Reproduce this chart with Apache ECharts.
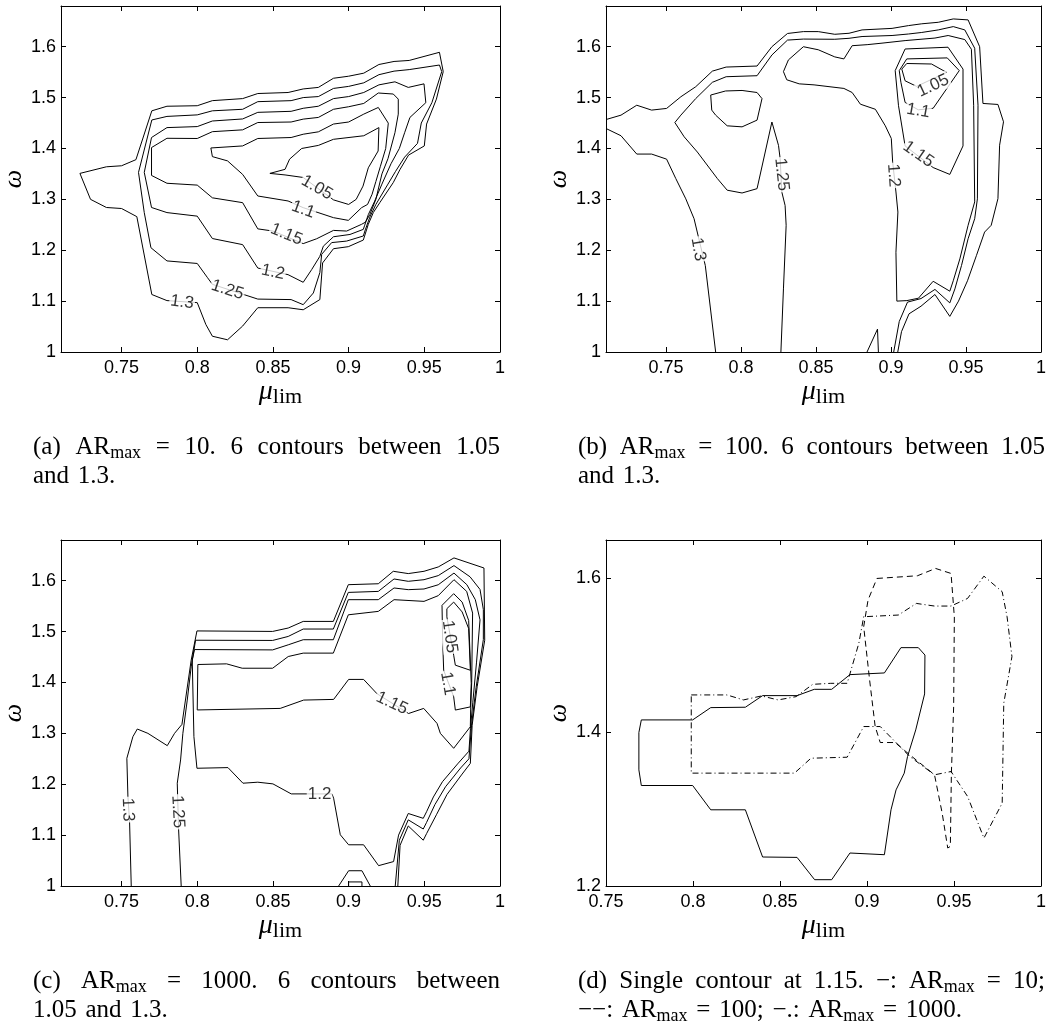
<!DOCTYPE html>
<html>
<head>
<meta charset="utf-8">
<script src="https://cdn.jsdelivr.net/npm/echarts@6/dist/echarts.min.js"></script>
<style>
  html, body { margin: 0; padding: 0; background: #fff; }
  #main { width: 1047px; height: 1021px; }
</style>
</head>
<body>
<div id="main"></div>
<script>
// tick values
var xTicks = [0.75, 0.8, 0.85, 0.9, 0.95, 1];
var yTicks = [1, 1.1, 1.2, 1.3, 1.4, 1.5, 1.6];
var yTicksD = [1.2, 1.4, 1.6];

// (a) AR_max = 10
var a130 = [[0.7225,1.351],[0.74,1.364],[0.75,1.366],[0.7595,1.378],[0.77,1.474],[0.78,1.483],[0.80,1.484],[0.81,1.494],[0.83,1.498],[0.84,1.508],[0.86,1.510],[0.87,1.517],[0.88,1.520],[0.89,1.538],[0.90,1.542],[0.91,1.548],[0.92,1.565],[0.93,1.571],[0.94,1.573],[0.96,1.589],[0.9625,1.551],[0.958,1.497],[0.9515,1.448],[0.95,1.405],[0.9396,1.387],[0.934,1.359],[0.9295,1.333],[0.9207,1.294],[0.9163,1.274],[0.913,1.251],[0.9097,1.220],[0.8998,1.207],[0.89,1.203],[0.8828,1.175],[0.881,1.103],[0.87,1.083],[0.86,1.087],[0.84,1.087],[0.83,1.051],[0.82,1.024],[0.81,1.031],[0.8057,1.054],[0.80,1.097],[0.78,1.101],[0.77,1.113],[0.7601,1.266],[0.75,1.282],[0.74,1.284],[0.7295,1.300],[0.7225,1.351]];
var a125 = [[0.77,1.456],[0.78,1.463],[0.80,1.466],[0.81,1.474],[0.83,1.477],[0.84,1.492],[0.862,1.494],[0.87,1.500],[0.88,1.502],[0.89,1.518],[0.90,1.522],[0.91,1.529],[0.92,1.545],[0.93,1.552],[0.94,1.555],[0.96,1.564],[0.9615,1.551],[0.955,1.49],[0.948,1.45],[0.9455,1.41],[0.937,1.383],[0.931,1.355],[0.926,1.33],[0.918,1.29],[0.914,1.265],[0.911,1.24],[0.9097,1.228],[0.8987,1.218],[0.8888,1.215],[0.8822,1.192],[0.881,1.156],[0.8767,1.116],[0.87,1.093],[0.862,1.103],[0.84,1.104],[0.81,1.133],[0.8068,1.146],[0.80,1.174],[0.78,1.179],[0.7694,1.205],[0.765,1.274],[0.7612,1.353],[0.77,1.456]];
var a120 = [[0.7698,1.4215],[0.78,1.441],[0.80,1.443],[0.81,1.454],[0.83,1.458],[0.84,1.471],[0.862,1.473],[0.87,1.479],[0.88,1.483],[0.89,1.498],[0.90,1.502],[0.91,1.510],[0.92,1.525],[0.9306,1.531],[0.9394,1.520],[0.9498,1.527],[0.951,1.490],[0.9405,1.461],[0.937,1.431],[0.9335,1.40],[0.928,1.37],[0.922,1.33],[0.917,1.295],[0.913,1.27],[0.9105,1.248],[0.9097,1.241],[0.9009,1.231],[0.89,1.2265],[0.8833,1.208],[0.881,1.188],[0.8756,1.162],[0.87,1.137],[0.86,1.152],[0.84,1.165],[0.83,1.211],[0.81,1.223],[0.80,1.267],[0.78,1.274],[0.7698,1.284],[0.765,1.353],[0.7698,1.4215]];
var a115 = [[0.7698,1.4018],[0.78,1.420],[0.80,1.4196],[0.81,1.433],[0.83,1.4366],[0.84,1.451],[0.862,1.452],[0.87,1.4577],[0.88,1.461],[0.89,1.477],[0.90,1.482],[0.91,1.4885],[0.9196,1.509],[0.9295,1.507],[0.9328,1.497],[0.9328,1.4675],[0.9306,1.431],[0.926,1.38],[0.922,1.35],[0.918,1.30],[0.914,1.27],[0.911,1.255],[0.9086,1.251],[0.8987,1.2377],[0.89,1.239],[0.8789,1.2226],[0.87,1.213],[0.85,1.2377],[0.84,1.242],[0.83,1.2935],[0.81,1.303],[0.80,1.328],[0.78,1.3316],[0.7698,1.347],[0.7698,1.4018]];
var a110 = [[0.809,1.401],[0.83,1.405],[0.84,1.4196],[0.862,1.4215],[0.87,1.428],[0.88,1.4327],[0.89,1.448],[0.90,1.452],[0.91,1.4675],[0.9196,1.4806],[0.9262,1.4498],[0.9245,1.40],[0.921,1.365],[0.918,1.335],[0.9155,1.31],[0.9125,1.29],[0.9086,1.2837],[0.8998,1.2587],[0.89,1.264],[0.87,1.2837],[0.86,1.2968],[0.84,1.3066],[0.83,1.349],[0.82,1.3756],[0.81,1.384],[0.809,1.401]];
var a105 = [[0.848,1.351],[0.858,1.359],[0.861,1.379],[0.869,1.400],[0.880,1.406],[0.890,1.418],[0.910,1.425],[0.92,1.441],[0.9195,1.395],[0.913,1.362],[0.9095,1.326],[0.905,1.300],[0.900,1.290],[0.890,1.299],[0.870,1.343],[0.858,1.348],[0.848,1.351]];
var aLabels = [['1.05',0.879,1.323],['1.1',0.870,1.280],['1.15',0.859,1.231],['1.2',0.850,1.157],['1.25',0.820,1.122],['1.3',0.790,1.098]];
var aAngles = [-30, -20, -22, -12, -18, -8];

// (b) AR_max = 100
var b130a = [[0.7102,1.439],[0.72,1.425],[0.7305,1.389],[0.7404,1.389],[0.7504,1.379],[0.7565,1.341],[0.7632,1.301],[0.7687,1.262],[0.7725,1.215],[0.7762,1.170],[0.7831,1.0]];
var b130b = [[0.7102,1.457],[0.72,1.4655],[0.7305,1.485],[0.7404,1.4754],[0.7504,1.4787],[0.7599,1.5016],[0.7698,1.5213],[0.7809,1.552],[0.7901,1.560],[0.8107,1.562],[0.8206,1.600],[0.831,1.626],[0.8416,1.6297],[0.8515,1.6297],[0.8625,1.6244],[0.872,1.6264],[0.8807,1.633],[0.9007,1.636],[0.9117,1.6415],[0.9205,1.645],[0.9315,1.648],[0.9415,1.6546],[0.9514,1.6527],[0.9591,1.600],[0.9613,1.4885],[0.9713,1.4865],[0.975,1.4524],[0.9724,1.4064],[0.9713,1.3014],[0.9668,1.249],[0.9624,1.2357],[0.957,1.19],[0.951,1.14],[0.945,1.10],[0.9392,1.070],[0.9293,1.113],[0.92,1.09],[0.912,1.075],[0.907,1.04],[0.9045,1.0]];
var b125 = [[0.8266,1.0],[0.8283,1.124],[0.8301,1.249],[0.8294,1.288],[0.8272,1.3145],[0.8261,1.380],[0.825,1.406],[0.8206,1.452],[0.8107,1.321],[0.8007,1.3125],[0.7908,1.318],[0.7842,1.341],[0.7709,1.393],[0.7621,1.423],[0.7559,1.451],[0.7599,1.4655],[0.7698,1.498],[0.7809,1.530],[0.7901,1.541],[0.8107,1.543],[0.8206,1.5837],[0.831,1.613],[0.8416,1.615],[0.8625,1.6146],[0.872,1.6165],[0.8807,1.620],[0.9007,1.622],[0.9117,1.625],[0.9205,1.628],[0.9315,1.633],[0.9415,1.6395],[0.9492,1.633],[0.9558,1.597],[0.958,1.485],[0.9576,1.301],[0.9558,1.262],[0.9514,1.2226],[0.947,1.17],[0.9426,1.124],[0.9392,1.0965],[0.9293,1.123],[0.92,1.105],[0.911,1.098],[0.9055,1.06],[0.9018,1.0]];
var b120 = [[0.8283,1.551],[0.8316,1.574],[0.8416,1.600],[0.8515,1.594],[0.8625,1.580],[0.8686,1.576],[0.8741,1.602],[0.8841,1.604],[0.894,1.607],[0.9094,1.612],[0.9293,1.617],[0.9381,1.622],[0.9492,1.614],[0.9536,1.595],[0.9551,1.485],[0.9558,1.295],[0.9514,1.249],[0.9459,1.183],[0.9415,1.14],[0.9392,1.1195],[0.9281,1.139],[0.9183,1.1057],[0.9106,1.101],[0.9039,1.100],[0.9033,1.196],[0.9046,1.275],[0.9033,1.3145],[0.9011,1.3736],[0.9002,1.4196],[0.8962,1.4445],[0.8896,1.477],[0.8796,1.487],[0.8741,1.510],[0.8686,1.518],[0.8487,1.525],[0.8388,1.527],[0.8305,1.535],[0.8283,1.551]];
var b120oval = [[0.7798,1.505],[0.7897,1.513],[0.8007,1.514],[0.8107,1.510],[0.814,1.498],[0.8107,1.4557],[0.8007,1.4425],[0.7908,1.4445],[0.7831,1.4655],[0.7805,1.4754],[0.7798,1.505]];
var b115 = [[0.9028,1.553],[0.9094,1.5955],[0.938,1.599],[0.948,1.556],[0.948,1.405],[0.9392,1.349],[0.9281,1.3625],[0.9094,1.405],[0.905,1.484],[0.9028,1.553]];
var b110 = [[0.9055,1.553],[0.9105,1.576],[0.9375,1.578],[0.9455,1.553],[0.9281,1.479],[0.9182,1.476],[0.9094,1.4905],[0.9066,1.53],[0.9055,1.553]];
var b105 = [[0.9072,1.556],[0.9105,1.567],[0.927,1.566],[0.937,1.5496],[0.9171,1.522],[0.9094,1.533],[0.9072,1.556]];
var bSpike = [[0.884,1.0],[0.891,1.045],[0.8916,1.0]];
var bLabels = [['1.05',0.9281,1.5233],['1.1',0.9182,1.474],['1.15',0.9182,1.3887],['1.2',0.9017,1.347],['1.25',0.8271,1.3487],['1.3',0.7714,1.2016]];
var bAngles = [25, -10, -35, -86, -84, -80];

// (c) AR_max = 1000
var c130 = [[0.7564,1.0],[0.7553,1.1268],[0.7542,1.1758],[0.7535,1.251],[0.7575,1.2935],[0.7604,1.3085],[0.7674,1.300],[0.7802,1.2758],[0.785,1.300],[0.7899,1.3176],[0.796,1.4438],[0.7998,1.5013],[0.8498,1.5003],[0.8601,1.507],[0.87,1.520],[0.8899,1.520],[0.8998,1.5922],[0.9196,1.594],[0.9295,1.6185],[0.9394,1.614],[0.9498,1.6185],[0.9592,1.627],[0.9696,1.6448],[0.9894,1.625],[0.9899,1.483],[0.9849,1.3915],[0.9816,1.316],[0.9804,1.241],[0.975,1.22],[0.965,1.18],[0.958,1.14],[0.9515,1.103],[0.9493,1.09],[0.9394,1.118],[0.934,1.08],[0.9325,1.0]];
var c125 = [[0.7894,1.0],[0.7877,1.1105],[0.7868,1.202],[0.789,1.2477],[0.7905,1.300],[0.7934,1.3654],[0.796,1.4307],[0.7989,1.483],[0.8498,1.4826],[0.8601,1.4905],[0.87,1.505],[0.8899,1.505],[0.8998,1.577],[0.9196,1.579],[0.93,1.6034],[0.9394,1.5988],[0.9498,1.602],[0.9592,1.61],[0.9696,1.6297],[0.9802,1.6077],[0.9868,1.5828],[0.989,1.5434],[0.989,1.4843],[0.9842,1.39],[0.9812,1.316],[0.9795,1.25],[0.974,1.232],[0.964,1.195],[0.957,1.16],[0.9515,1.125],[0.9493,1.112],[0.9394,1.13],[0.9335,1.09],[0.9308,1.0]];
var c120 = [[0.7982,1.4647],[0.8498,1.464],[0.8601,1.474],[0.87,1.484],[0.8899,1.484],[0.8998,1.5627],[0.9196,1.5627],[0.93,1.5857],[0.9394,1.5824],[0.9498,1.5837],[0.9592,1.592],[0.9696,1.615],[0.9781,1.5922],[0.9837,1.5627],[0.9868,1.523],[0.9845,1.44],[0.982,1.36],[0.9805,1.31],[0.9795,1.265],[0.972,1.24],[0.962,1.205],[0.956,1.175],[0.9515,1.146],[0.9493,1.133],[0.9394,1.1425],[0.933,1.10],[0.9297,1.048],[0.9198,1.040],[0.9099,1.081],[0.90,1.081],[0.8945,1.1007],[0.8901,1.1725],[0.889,1.181],[0.8621,1.181],[0.85,1.2007],[0.84,1.204],[0.8302,1.202],[0.8203,1.2327],[0.7998,1.2314],[0.7978,1.2935],[0.7967,1.444],[0.7982,1.4647]];
var c115 = [[0.8004,1.4353],[0.8194,1.4366],[0.8297,1.428],[0.8498,1.428],[0.8601,1.451],[0.87,1.4577],[0.8899,1.4577],[0.8998,1.533],[0.9196,1.5397],[0.93,1.5627],[0.9498,1.5594],[0.9592,1.5706],[0.9696,1.602],[0.978,1.579],[0.9819,1.5364],[0.9813,1.40],[0.9806,1.346],[0.9804,1.313],[0.9694,1.2706],[0.9606,1.300],[0.9584,1.3196],[0.9496,1.349],[0.9396,1.339],[0.9187,1.378],[0.9099,1.406],[0.90,1.406],[0.8901,1.3667],[0.8703,1.3654],[0.8548,1.349],[0.80,1.346],[0.8004,1.4353]];
var c110 = [[0.9617,1.5516],[0.9694,1.5745],[0.975,1.558],[0.9793,1.522],[0.981,1.398],[0.9804,1.352],[0.9705,1.3458],[0.9694,1.372],[0.9628,1.424],[0.9621,1.483],[0.9617,1.5516]];
var c105 = [[0.9649,1.545],[0.9694,1.558],[0.975,1.5386],[0.9793,1.506],[0.9804,1.424],[0.9705,1.434],[0.9694,1.4536],[0.9649,1.529],[0.9649,1.545]];
var cBump = [[0.8934,1.0],[0.90,1.030],[0.9088,1.030],[0.9143,1.0]];
var cBox = [[0.90,1.0],[0.90,1.008],[0.9088,1.008],[0.9088,1.0]];
var cLabels = [['1.3',0.7542,1.15],['1.25',0.7872,1.146],['1.2',0.8808,1.181],['1.15',0.9286,1.359],['1.1',0.9655,1.398],['1.05',0.9668,1.49]];
var cAngles = [-88, -87, 0, -25, -80, -82];

// (d) single contour at 1.15
var d10 = [[0.7703,1.416],[0.7998,1.416],[0.8102,1.432],[0.8301,1.4325],[0.84,1.4476],[0.8598,1.4476],[0.8697,1.4558],[0.8797,1.4558],[0.8902,1.4749],[0.91,1.4771],[0.9195,1.51],[0.9295,1.51],[0.9333,1.5004],[0.9331,1.4498],[0.928,1.403],[0.9233,1.3684],[0.9214,1.3468],[0.9167,1.325],[0.9138,1.2991],[0.91,1.2407],[0.8902,1.2429],[0.8797,1.2082],[0.8699,1.2082],[0.8598,1.2372],[0.84,1.2377],[0.8301,1.2991],[0.8102,1.2991],[0.7998,1.3307],[0.7703,1.3307],[0.7689,1.351],[0.7689,1.3996],[0.7703,1.416]];
var d100 = [[0.9057,1.600],[0.929,1.6035],[0.9394,1.613],[0.9483,1.6065],[0.9502,1.550],[0.9498,1.4333],[0.9485,1.3468],[0.9479,1.2515],[0.9464,1.2494],[0.9432,1.2948],[0.9388,1.3446],[0.9246,1.3706],[0.9161,1.3866],[0.9076,1.3866],[0.9047,1.4074],[0.9015,1.468],[0.8981,1.5372],[0.9006,1.5719],[0.9057,1.600]];
var d1000 = [[0.799,1.4485],[0.8195,1.4485],[0.829,1.442],[0.8394,1.4472],[0.8489,1.442],[0.8593,1.4463],[0.8688,1.4623],[0.8792,1.4636],[0.8886,1.4636],[0.8953,1.5156],[0.8981,1.5502],[0.918,1.5524],[0.9284,1.5675],[0.9388,1.5641],[0.9483,1.5641],[0.9578,1.574],[0.9672,1.603],[0.9777,1.5827],[0.9805,1.5502],[0.9833,1.4983],[0.9786,1.4377],[0.9777,1.3078],[0.9672,1.2623],[0.9578,1.3165],[0.9483,1.3489],[0.9388,1.3446],[0.9246,1.3684],[0.9076,1.4074],[0.8981,1.4074],[0.8886,1.3675],[0.8678,1.3662],[0.8583,1.3468],[0.799,1.3468],[0.799,1.4485]];

var captions = [
  ['(a) AR{sub|max} = 10. 6 contours between 1.05', 'and 1.3.'],
  ['(b) AR{sub|max} = 100. 6 contours between 1.05', 'and 1.3.'],
  ['(c) AR{sub|max} = 1000. 6 contours between', '1.05 and 1.3.'],
  ['(d) Single contour at 1.15. \u2212: AR{sub|max} = 10;', '\u2212\u2212: AR{sub|max} = 100; \u2212.: AR{sub|max} = 1000.']
];

var DASHED = [6, 4];
var DASHDOT = [6, 3, 1, 3];

var panels = [
  { box: {left: 61, top: 6, width: 439, height: 346}, xr: [0.71, 1], yr: [1, 1.68], yt: yTicks,
    lines: [[a130], [a125], [a120], [a115], [a110], [a105]], labels: aLabels, angles: aAngles, cap: [33, 500, 447] },
  { box: {left: 606, top: 6, width: 435, height: 346}, xr: [0.71, 1], yr: [1, 1.68], yt: yTicks,
    lines: [[b130a], [b130b], [b125], [b120], [b120oval], [b115], [b110], [b105], [bSpike]], labels: bLabels, angles: bAngles, cap: [578, 1045, 447] },
  { box: {left: 61, top: 540, width: 439, height: 346}, xr: [0.71, 1], yr: [1, 1.68], yt: yTicks,
    lines: [[c130], [c125], [c120], [c115], [c110], [c105], [cBump], [cBox]], labels: cLabels, angles: cAngles, cap: [33, 500, 981] },
  { box: {left: 606, top: 540, width: 435, height: 346}, xr: [0.75, 1], yr: [1.2, 1.65], yt: yTicksD,
    lines: [[d10], [d100, DASHED], [d1000, DASHDOT]], labels: [], angles: [], cap: [578, 1045, 981] }
];

var TICK_FONT = 'Liberation Sans';
var CAP_FONT = '25px "Liberation Serif"';
var SUB_FONT = '18px "Liberation Serif"';

var grids = [], xAxes = [], yAxes = [], series = [], graphics = [];

function axisBase(gi, range, ticks) {
  return {
    type: 'value', gridIndex: gi, min: range[0], max: range[1],
    splitLine: { show: false },
    axisLine: { show: true, onZero: false, lineStyle: { color: '#000', width: 1 } },
    axisTick: { show: true, inside: true, length: 5, customValues: ticks, lineStyle: { color: '#000', width: 1 } }
  };
}

var muName = {
  name: '{mu|\u03bc}{sub|lim}', nameLocation: 'middle', nameGap: 22,
  nameTextStyle: { rich: {
    mu: { fontFamily: 'Liberation Serif', fontStyle: 'italic', fontSize: 28, color: '#000' },
    sub: { fontFamily: 'Liberation Serif', fontSize: 22, color: '#000', padding: [10, 0, 0, 0] }
  } }
};
var omegaName = {
  name: '\u03c9', nameLocation: 'middle', nameGap: 34, nameRotate: 90,
  nameTextStyle: { fontFamily: 'Liberation Serif', fontStyle: 'italic', fontSize: 26, color: '#000' }
};

panels.forEach(function (p, gi) {
  grids.push(Object.assign({ containLabel: false, outerBoundsMode: 'none' }, p.box));
  var xb = Object.assign(axisBase(gi, p.xr, xTicks), { position: 'bottom',
    axisLabel: { show: true, customValues: xTicks, color: '#000', fontSize: 18, fontFamily: TICK_FONT, margin: 7 } }, muName);
  var xt = Object.assign(axisBase(gi, p.xr, xTicks), { position: 'top', axisLabel: { show: false } });
  var yl = Object.assign(axisBase(gi, p.yr, p.yt), { position: 'left',
    axisLabel: { show: true, customValues: p.yt, color: '#000', fontSize: 18, fontFamily: TICK_FONT, margin: 5 } }, omegaName);
  var yr = Object.assign(axisBase(gi, p.yr, p.yt), { position: 'right', axisLabel: { show: false } });
  xAxes.push(xb, xt);
  yAxes.push(yl, yr);

  p.lines.forEach(function (ln) {
    series.push({
      type: 'line', xAxisIndex: 2 * gi, yAxisIndex: 2 * gi, data: ln[0],
      showSymbol: false, symbol: 'none', silent: true, z: 2,
      lineStyle: { color: '#000', width: 1, type: ln[1] || 'solid' }
    });
  });

  if (p.labels.length) {
    series.push({
      type: 'scatter', xAxisIndex: 2 * gi, yAxisIndex: 2 * gi, symbolSize: 1, silent: true, z: 5,
      itemStyle: { color: 'rgba(0,0,0,0)' },
      data: p.labels.map(function (l, i) { return { name: l[0], value: [l[1], l[2]], label: { rotate: p.angles[i] } }; }),
      label: { show: true, position: 'inside', formatter: '{b}', color: '#000', fontSize: 17,
        fontFamily: TICK_FONT, backgroundColor: '#fff', padding: [0, 1] }
    });
  }
});

// captions, justified like the LaTeX original
var measureCtx = document.createElement('canvas').getContext('2d');
function wordWidth(word) {
  var w = 0;
  word.split(/(\{sub\|[^}]*\})/).forEach(function (part) {
    if (!part) return;
    var m = part.match(/^\{sub\|([^}]*)\}$/);
    measureCtx.font = m ? SUB_FONT : CAP_FONT;
    w += measureCtx.measureText(m ? m[1] : part).width;
  });
  return w;
}
function captionLine(text, left, right, y, justify) {
  var words = text.split(' ');
  var widths = words.map(wordWidth);
  var total = widths.reduce(function (s, v) { return s + v; }, 0);
  measureCtx.font = CAP_FONT;
  var gap = justify ? (right - left - total) / (words.length - 1) : measureCtx.measureText(' ').width * 1.4;
  var x = left;
  words.forEach(function (w, i) {
    graphics.push({
      type: 'text', x: x, y: y, silent: true,
      style: { text: w, font: CAP_FONT, fill: '#000', align: 'left', verticalAlign: 'middle',
        rich: { sub: { font: SUB_FONT, fill: '#000', padding: [12, 0, 0, 0] } } }
    });
    x += widths[i] + gap;
  });
}
panels.forEach(function (p, i) {
  captionLine(captions[i][0], p.cap[0], p.cap[1], p.cap[2], true);
  captionLine(captions[i][1], p.cap[0], p.cap[1], p.cap[2] + 29, false);
});

var myChart = echarts.init(document.getElementById('main'));
var option = {
  animation: false,
  backgroundColor: '#fff',
  grid: grids,
  xAxis: xAxes,
  yAxis: yAxes,
  series: series,
  graphic: graphics
};
myChart.setOption(option);
</script>
</body>
</html>
